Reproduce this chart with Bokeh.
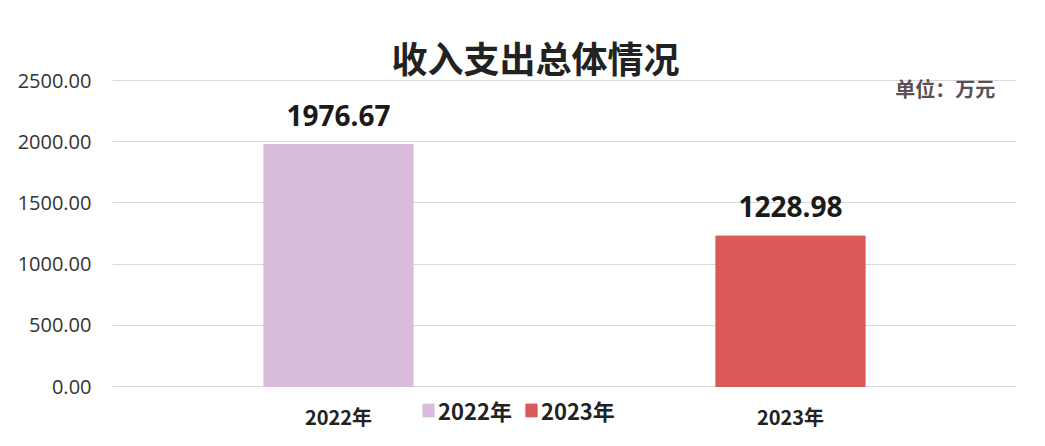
from bokeh.plotting import figure
from bokeh.models import ColumnDataSource, LabelSet, Label, Legend, LegendItem, NumeralTickFormatter, Range1d, FactorRange
from bokeh.core.properties import value
from bokeh.embed import file_html
from bokeh.resources import INLINE

years = ["2022年", "2023年"]
values = [1976.67, 1228.98]
colors = ["#DABCDD", "#D95A56"]
value_labels = ["1976.67", "1228.98"]
y_ticks = [0, 500, 1000, 1500, 2000, 2500]
title_text = "收入支出总体情况"
unit_text = "单位：万元"

src = ColumnDataSource(dict(x=years, top=values, color=colors, label=value_labels,
                            base=[0, 0]))

# frame fills the full canvas height; 0 sits at y=386px and 2500 at y=80px
px_per_unit = 306 / 2500
y_lo = -(430 - 386) / px_per_unit
y_hi = 386 / px_per_unit

p = figure(x_range=FactorRange(*years), y_range=Range1d(y_lo, y_hi),
           width=1029, height=430, output_backend="svg", toolbar_location=None,
           min_border_left=112, min_border_right=13, min_border_top=0, min_border_bottom=0)
p.outline_line_color = None
p.background_fill_color = "white"
p.border_fill_color = "white"

p.vbar(x="x", top="top", width=0.33, color="color", source=src)

p.yaxis.ticker = y_ticks
p.yaxis.formatter = NumeralTickFormatter(format="0.00")
p.yaxis.axis_line_color = None
p.yaxis.major_tick_line_color = None
p.yaxis.minor_tick_line_color = None
p.yaxis.major_label_text_font = "Open Sans"
p.yaxis.major_label_text_font_size = "20px"
p.yaxis.major_label_text_color = "#333333"
p.yaxis.major_label_standoff = 15

p.xaxis.visible = False
p.xgrid.grid_line_color = None
p.ygrid.grid_line_color = "#d9d9d9"
p.ygrid.grid_line_width = 1

# value labels above bars
p.add_layout(LabelSet(x="x", y="top", text="label", source=src, text_align="center",
                      text_baseline="alphabetic", y_offset=19, text_font=value("Noto Sans"),
                      text_font_style="bold", text_font_size=value("28px"), text_color="#1a1a1a"))

# category labels under the baseline
p.add_layout(LabelSet(x="x", y="base", text="x", source=src, text_align="center",
                      text_baseline="middle", y_offset=-30, text_font=value("Noto Sans CJK SC"),
                      text_font_style="bold", text_font_size=value("20px"), text_color="#222222"))

p.add_layout(Label(x=0.936, y=(386 - 56) / px_per_unit, text=title_text, text_align="center",
                   text_baseline="middle", text_font="Noto Sans CJK SC", text_font_style="bold",
                   text_font_size="36px", text_color="#222222"))
p.add_layout(Label(x=1.953, y=(386 - 88) / px_per_unit, text=unit_text, text_align="right",
                   text_baseline="middle", text_font="Noto Sans CJK SC", text_font_style="bold",
                   text_font_size="20px", text_color="#5a4f55"))

r1 = p.vbar(x=[years[0]], top=[0], width=0.0, color=colors[0], visible=False)
r2 = p.vbar(x=[years[1]], top=[0], width=0.0, color=colors[1], visible=False)
legend = Legend(items=[LegendItem(label=years[0], renderers=[r1]),
                       LegendItem(label=years[1], renderers=[r2])],
                orientation="horizontal", location=(309, 4),
                label_text_font="Noto Sans CJK SC", label_text_font_size="22px",
                label_text_font_style="bold",
                label_text_color="#222222", glyph_width=14, glyph_height=16,
                label_height=22, spacing=12, padding=0, margin=0, label_standoff=3,
                border_line_color=None, background_fill_alpha=0)
p.add_layout(legend, "center")

open("out.html", "w").write(file_html(p, INLINE))
